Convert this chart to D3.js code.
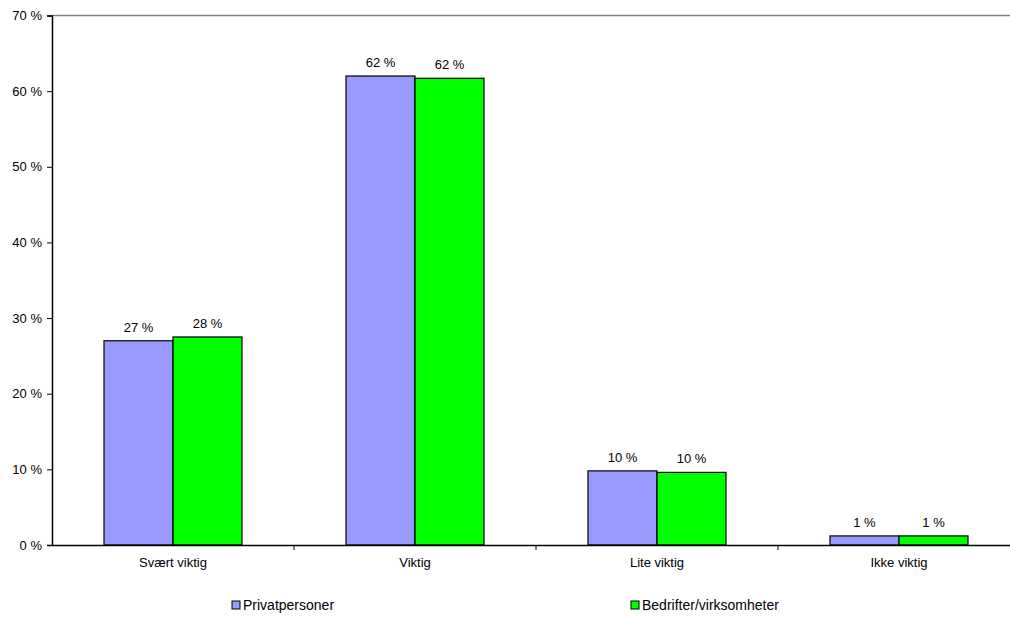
<!DOCTYPE html>
<html>
<head>
<meta charset="utf-8">
<script src="https://cdn.jsdelivr.net/npm/d3@7"></script>
<style>
  html, body { margin: 0; padding: 0; background: #ffffff; }
  svg { display: block; font-family: "Liberation Sans", Arial, sans-serif; }
</style>
</head>
<body>
<svg id="chart" width="1010" height="619"></svg>
<script>
const categories = ["Svært viktig", "Viktig", "Lite viktig", "Ikke viktig"];
const seriesNames = ["Privatpersoner", "Bedrifter/virksomheter"];
const privatpersoner = [27.0, 62.0, 9.8, 1.2];
const bedrifter = [27.5, 61.7, 9.6, 1.2];
const dataLabels = [["27 %", "62 %", "10 %", "1 %"], ["28 %", "62 %", "10 %", "1 %"]];
const yTicks = [0, 10, 20, 30, 40, 50, 60, 70];
const colors = ["#9999FF", "#00FF00"];

const series = [privatpersoner, bedrifter];
const svg = d3.select("#chart");

const x0 = d3.scaleBand().domain(categories).range([52, 1020]).padding(0);
const x1 = d3.scaleBand().domain(seriesNames).range([0, x0.bandwidth()])
  .paddingInner(0).paddingOuter(0.7536);
const y = d3.scaleLinear().domain([0, 70]).range([545, 15.5]);

// top border
svg.append("line").attr("x1", 52).attr("x2", 1010)
  .attr("y1", y(70)).attr("y2", y(70))
  .attr("stroke", "#808080").attr("stroke-width", 1.5);

// bars
categories.forEach((c, i) => {
  series.forEach((s, j) => {
    svg.append("rect")
      .attr("x", x0(c) + x1(seriesNames[j]))
      .attr("y", y(s[i]))
      .attr("width", x1.bandwidth())
      .attr("height", y(0) - y(s[i]))
      .attr("fill", colors[j])
      .attr("stroke", "#000").attr("stroke-width", 1.2);
    svg.append("text")
      .attr("x", x0(c) + x1(seriesNames[j]) + x1.bandwidth() / 2)
      .attr("y", y(s[i]) - 9)
      .attr("text-anchor", "middle")
      .attr("font-size", 13).attr("fill", "#000")
      .text(dataLabels[j][i]);
  });
});

// y axis
const yAxis = d3.axisLeft(y).tickValues(yTicks).tickSize(5).tickPadding(5)
  .tickFormat(d => d + " %");
const gy = svg.append("g").attr("transform", "translate(52,0)").call(yAxis);
gy.select(".domain").attr("stroke", "#000").attr("stroke-width", 1.5);
gy.selectAll(".tick line").attr("stroke", "#000");
gy.selectAll(".tick text").attr("font-size", 13).attr("fill", "#000")
  .attr("font-family", "Liberation Sans, Arial, sans-serif");

// x axis
const xAxis = d3.axisBottom(x0).tickSize(0).tickPadding(13);
const gx = svg.append("g").attr("transform", "translate(0,545)").call(xAxis);
gx.select(".domain").attr("stroke", "#000").attr("stroke-width", 1.5);
gx.selectAll(".tick text").attr("font-size", 13).attr("fill", "#000")
  .attr("font-family", "Liberation Sans, Arial, sans-serif");
// category separator ticks
categories.slice(1).forEach(c => {
  svg.append("line").attr("x1", x0(c)).attr("x2", x0(c))
    .attr("y1", 545).attr("y2", 550).attr("stroke", "#000");
});

// legend
const legendX = [232, 631];
seriesNames.forEach((n, j) => {
  svg.append("rect").attr("x", legendX[j]).attr("y", 601)
    .attr("width", 8).attr("height", 8)
    .attr("fill", colors[j]).attr("stroke", "#000").attr("stroke-width", 1);
  svg.append("text").attr("x", legendX[j] + 11).attr("y", 610)
    .attr("font-size", 14).attr("fill", "#000").text(n);
});
</script>
</body>
</html>
